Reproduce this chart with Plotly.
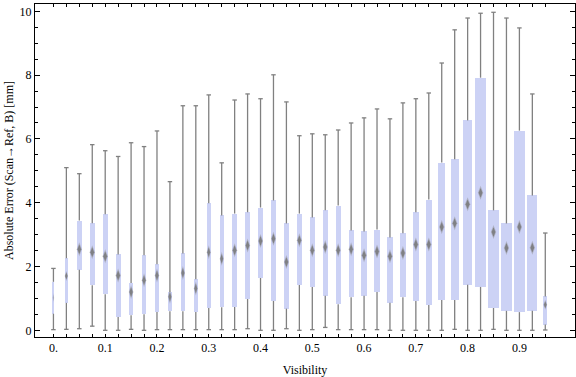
import plotly.graph_objects as go

# ---- data ----
visibility = [round(0.025 * i, 3) for i in range(39)]
whisker_low = [0.02, 0.03, 0.05, 0.13, 0.00, 0.00, 0.03, 0.00, 0.02, 0.02,
               0.02, 0.02, 0.02, 0.02, 0.02, 0.05, 0.00, 0.00, 0.05, 0.00,
               0.02, 0.09, 0.02, 0.02, 0.02, 0.02, 0.00, 0.00, 0.00, 0.00,
               0.00, 0.03, 0.00, 0.00, 0.03, 0.00, 0.00, 0.00, 0.01]
q1 = [0.52, 0.86, 1.90, 1.41, 1.13, 0.42, 0.47, 0.50, 0.57, 0.60,
      0.60, 0.57, 0.70, 0.72, 0.73, 0.98, 1.64, 0.92, 0.68, 1.42,
      1.36, 1.08, 0.82, 1.04, 1.08, 1.20, 0.86, 1.04, 0.92, 0.79,
      0.95, 0.95, 1.43, 1.36, 0.70, 0.61, 0.57, 0.61, 0.18]
median = [1.02, 1.70, 2.54, 2.45, 2.32, 1.72, 1.20, 1.57, 1.72, 1.05,
          1.80, 1.31, 2.45, 2.24, 2.51, 2.66, 2.80, 2.87, 2.14, 2.82,
          2.51, 2.61, 2.51, 2.54, 2.35, 2.47, 2.32, 2.42, 2.69, 2.69,
          3.24, 3.36, 3.95, 4.31, 3.08, 2.58, 3.24, 2.59, 0.80]
q3 = [1.52, 2.26, 3.44, 3.36, 3.64, 2.38, 1.48, 2.35, 2.07, 1.20,
      2.41, 1.60, 3.98, 3.60, 3.66, 3.70, 3.85, 4.07, 3.35, 3.66,
      3.54, 3.76, 3.91, 3.13, 3.10, 3.16, 2.91, 3.04, 3.70, 4.10,
      5.26, 5.36, 6.58, 7.92, 3.76, 3.35, 6.26, 4.23, 1.06]
whisker_high = [1.94, 5.10, 4.91, 5.82, 5.63, 5.45, 5.88, 5.76, 6.25, 4.66,
                7.04, 7.04, 7.38, 5.25, 7.22, 7.41, 7.26, 8.01, 7.16, 6.10,
                6.16, 6.13, 6.28, 6.50, 6.66, 6.94, 6.63, 7.13, 7.26, 7.44,
                8.38, 9.42, 9.79, 9.94, 9.97, 9.79, 9.48, 7.41, 3.05]
# relative box width (fraction of the category spacing)
rel_width = [0.12, 0.26, 0.39, 0.41, 0.41, 0.41, 0.36, 0.35, 0.35, 0.31,
             0.33, 0.31, 0.31, 0.31, 0.39, 0.39, 0.39, 0.39, 0.39, 0.39,
             0.39, 0.39, 0.39, 0.39, 0.44, 0.44, 0.41, 0.44, 0.46, 0.46,
             0.54, 0.62, 0.70, 0.83, 0.85, 0.85, 0.85, 0.77, 0.29]
x_tick_labels = ["0.", "0.1", "0.2", "0.3", "0.4", "0.5", "0.6", "0.7", "0.8", "0.9"]
y_tick_vals = [0, 2, 4, 6, 8, 10]

# ---- style ----
STEP = 0.025
BOX_COLOR = "rgb(204,210,245)"
GRAY = "rgb(128,128,128)"
FONT = "Liberation Serif"
PX_PER_STEP = 12.94

fig = go.Figure()

# boxes
fig.add_trace(go.Bar(
    x=visibility,
    y=[b - a for a, b in zip(q1, q3)],
    base=q1,
    width=[w * STEP for w in rel_width],
    marker=dict(color=BOX_COLOR, line=dict(width=0)),
    hoverinfo="skip",
    showlegend=False,
))

# whiskers (outside the boxes)
wx, wy = [], []
for p, lo, a, b, hi in zip(visibility, whisker_low, q1, q3, whisker_high):
    wx += [p, p, None, p, p, None]
    wy += [lo, a, None, b, hi, None]
fig.add_trace(go.Scatter(
    x=wx, y=wy, mode="lines",
    line=dict(color=GRAY, width=1.3),
    hoverinfo="skip", showlegend=False,
))

# whisker caps
fig.add_trace(go.Scatter(
    x=visibility + visibility,
    y=whisker_low + whisker_high,
    mode="markers",
    marker=dict(symbol="line-ew", size=3.2, line=dict(color=GRAY, width=1.3)),
    hoverinfo="skip", showlegend=False,
))

# median diamonds (pixel-sized shapes anchored at data positions)
shapes = []
for p, m, w in zip(visibility, median, rel_width):
    bpx = w * PX_PER_STEP
    hw = min(2.7, 0.5 * bpx)
    hh = 7.0 if bpx >= 4 else 5.0
    alpha = 1.0 if bpx >= 3 else 0.4
    for scale, col in ((1.0, f"rgba(140,140,140,{0.45*alpha})"),
                       (0.7, f"rgba(115,115,115,{0.8*alpha})")):
        shapes.append(dict(
            type="path", xref="x", yref="y",
            xsizemode="pixel", ysizemode="pixel",
            xanchor=p, yanchor=m,
            path=f"M0,{hh*scale} L{hw*scale},0 L0,{-hh*scale} L{-hw*scale},0 Z",
            fillcolor=col, line=dict(width=0), layer="above",
        ))

ticktext = []
for i, p in enumerate(visibility):
    ticktext.append(x_tick_labels[i // 4] if i % 4 == 0 else "")

fig.update_layout(
    width=576, height=377,
    margin=dict(l=35, r=1, t=4, b=40),
    paper_bgcolor="white", plot_bgcolor="white",
    font=dict(family=FONT, size=12, color="black"),
    shapes=shapes,
    bargap=0,
    xaxis=dict(
        automargin=False,
        range=[-0.0356, 1.0074],
        tickvals=visibility, ticktext=ticktext,
        ticks="inside", ticklen=3, tickwidth=1, tickcolor="black",
        showline=True, linecolor="black", linewidth=1, mirror="ticks",
        showgrid=False, zeroline=False,
        title=dict(text="Visibility", font=dict(family=FONT, size=12), standoff=11),
        tickfont=dict(family=FONT, size=12),
    ),
    yaxis=dict(
        automargin=False,
        range=[-0.21, 10.23],
        tickvals=y_tick_vals, ticktext=[str(v) for v in y_tick_vals],
        ticks="inside", ticklen=5, tickwidth=1, tickcolor="black",
        minor=dict(dtick=0.5, tick0=0, ticks="inside", ticklen=3, tickcolor="black", tickwidth=1),
        showline=True, linecolor="black", linewidth=1, mirror="ticks",
        showgrid=False, zeroline=False,
        title=dict(text="Absolute Error (Scan\u2192Ref, B) [mm]", font=dict(family=FONT, size=12), standoff=3),
        tickfont=dict(family=FONT, size=12),
    ),
)

fig.write_html(
    "out.html",
    config={"displayModeBar": False},
    post_script="document.body.style.margin='0';document.body.style.padding='0';document.body.style.overflow='hidden';",
)
